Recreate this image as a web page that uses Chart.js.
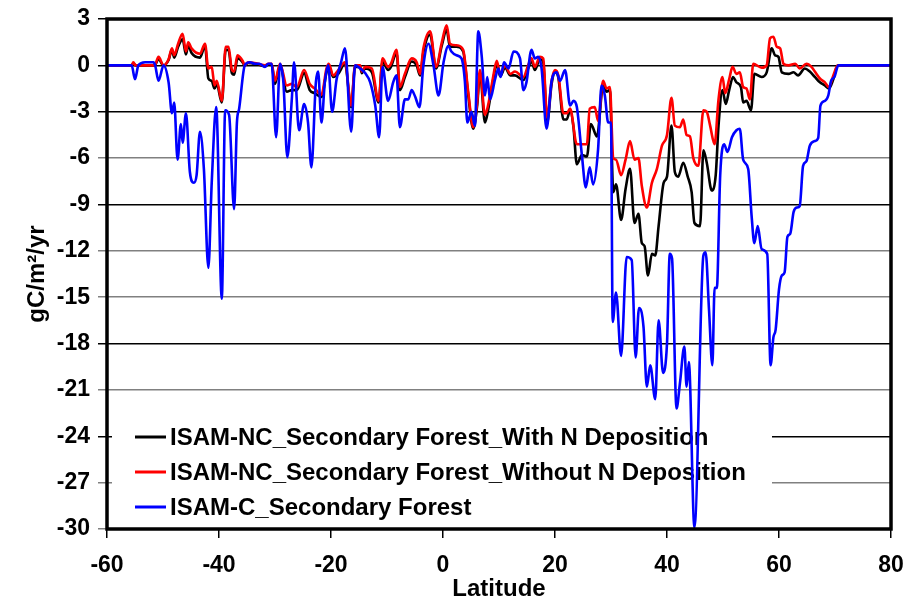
<!DOCTYPE html>
<html>
<head>
<meta charset="utf-8">
<script src="https://cdn.jsdelivr.net/npm/chart.js@4/dist/chart.umd.min.js"></script>
<style>
  body { margin: 0; background: #fff; }
</style>
</head>
<body>
<canvas id="latChart" width="905" height="598"></canvas>
<script>
// latitude (deg) / flux (gC/m2/yr) pairs
const seriesLabels = [
  "ISAM-NC_Secondary Forest_With N Deposition",
  "ISAM-NC_Secondary Forest_Without N Deposition",
  "ISAM-C_Secondary Forest"
];
const seriesColors = ["#000000", "#ff0000", "#0000ff"];

const xTicks = [-60, -40, -20, 0, 20, 40, 60, 80];
const yTicks = [3, 0, -3, -6, -9, -12, -15, -18, -21, -24, -27, -30];

const blackLat = [-60, -55.6, -55.3, -54.9, -51.5, -50.8, -49.9, -49.0, -48.4, -48.0, -47.3, -46.5, -45.9, -45.5, -44.9, -43.4, -42.5, -41.9, -41.3, -40.8, -40.4, -39.5, -38.8, -38.3, -37.7, -37.3, -36.7, -36.3, -35.8, -35.4, -34.8, -33.0, -31.8, -31.2, -30.6, -30.0, -29.1, -27.9, -27.0, -26.1, -24.8, -23.8, -22.9, -21.7, -20.8, -20.4, -19.6, -18.7, -17.5, -16.4, -15.7, -14.8, -14.5, -13.9, -12.7, -11.5, -10.8, -9.8, -9.3, -8.3, -7.7, -6.8, -5.6, -4.7, -4.1, -3.5, -2.3, -1.25, -0.2, 0.65, 1.25, 2.4, 3.6, 4.5, 5.4, 6.1, 6.6, 7.5, 8.1, 9.0, 9.6, 10.2, 11.1, 12.0, 12.86, 14.35, 15.2, 15.8, 16.4, 17.3, 17.9, 18.6, 19.4, 20.0, 20.6, 21.5, 22.1, 22.7, 23.3, 23.9, 24.8, 25.7, 26.4, 27.5, 28.6, 29.2, 29.8, 30.4, 30.9, 31.8, 32.6, 33.4, 34.2, 34.9, 35.5, 36.0, 36.6, 37.3, 37.9, 38.5, 39.4, 40.0, 40.8, 41.4, 42.0, 42.9, 43.7, 44.4, 44.9, 45.9, 46.5, 47.1, 48.0, 48.7, 49.2, 49.9, 50.5, 51.1, 51.8, 52.4, 53.2, 53.6, 54.2, 55.0, 55.6, 56.9, 57.8, 58.7, 59.3, 59.9, 60.5, 61.7, 62.6, 63.4, 64.6, 65.5, 66.4, 67.3, 68.2, 68.9, 69.7, 70.5, 80];
const blackVal = [0, 0, 0.15, 0, 0, 0.4, 0, 0.35, 1.0, 0.5, 1.2, 1.7, 0.7, 1.3, 0.8, 0.5, 1.25, -0.85, -1.0, -1.5, -1.2, -2.4, 1.0, 1.0, -0.5, -0.6, 0.45, 0.4, 0.2, 0, 0.15, 0.05, -0.05, 0.05, 0.05, -1.2, 0, -1.7, -1.6, -1.6, -0.5, -1.6, -1.8, -2.05, -0.45, -0.05, -0.75, -0.55, 0.1, -2.7, -0.1, -0.1, -0.5, -0.2, -0.45, -2.4, 0.25, -0.3, -0.1, 0.8, -1.6, -0.75, 0.25, 0, -0.65, 0.85, 2.0, -0.2, 1.3, 2.3, 1.2, 1.2, 0.9, -1.9, -4.1, -2.6, -0.5, -3.7, -2.8, -0.85, 0.1, -0.7, -0.15, -0.65, -0.65, -0.95, -0.2, 0.3, -0.3, 0.4, 0.2, -3.7, -1.2, -0.45, -0.8, -3.5, -3.5, -2.9, -4.0, -6.4, -5.8, -5.9, -3.8, -4.6, -1.3, -1.7, -1.6, -8.2, -7.7, -10.0, -8.0, -6.7, -10.2, -9.6, -11.5, -11.7, -13.6, -12.2, -12.3, -10.4, -7.6, -7.2, -3.9, -6.9, -7.2, -6.3, -7.2, -8.2, -10.2, -10.4, -5.5, -6.3, -8.1, -7.1, -3.9, -1.6, -2.5, -1.6, -0.75, -1.1, -1.4, -2.4, -2.3, -2.9, -0.55, -0.75, -0.45, 1.1, 0.65, 0.55, -0.45, -0.55, -0.45, -0.65, -0.2, -0.4, -0.75, -1.1, -1.3, -1.5, -0.9, 0, 0];

const redLat = [-60, -55.6, -55.3, -54.9, -51.5, -50.8, -49.9, -49.0, -48.4, -48.0, -47.3, -46.5, -45.9, -45.5, -44.9, -43.4, -42.5, -41.9, -41.3, -40.8, -40.4, -39.5, -38.8, -38.3, -37.7, -37.3, -36.7, -36.3, -35.8, -35.4, -34.8, -33.0, -31.8, -31.2, -30.6, -30.0, -29.1, -27.9, -27.0, -26.1, -24.8, -23.8, -22.9, -21.7, -20.8, -20.4, -19.6, -18.7, -17.5, -16.4, -15.7, -14.8, -14.5, -13.9, -12.7, -11.5, -10.8, -9.8, -9.3, -8.3, -7.7, -6.8, -5.6, -4.7, -4.1, -3.5, -2.3, -1.25, -0.2, 0.65, 1.25, 2.4, 3.6, 4.5, 5.4, 6.1, 6.6, 7.5, 8.1, 9.0, 9.6, 10.2, 11.1, 12.0, 12.86, 14.35, 15.2, 15.8, 16.4, 17.3, 17.9, 18.6, 19.4, 20.0, 20.6, 21.5, 22.1, 22.7, 23.9, 24.8, 25.7, 26.2, 27.1, 27.7, 28.6, 29.2, 29.8, 30.4, 30.9, 31.8, 32.6, 33.4, 34.2, 34.9, 35.5, 36.4, 37.3, 38.2, 39.1, 40.0, 40.8, 41.4, 42.3, 42.9, 43.5, 44.1, 44.7, 45.6, 46.5, 47.1, 47.7, 48.5, 49.2, 49.9, 50.4, 51.1, 51.7, 52.4, 53.0, 53.6, 54.2, 54.8, 55.4, 56.9, 57.8, 58.4, 59.0, 59.6, 60.2, 60.8, 61.7, 62.9, 63.7, 64.9, 65.8, 66.4, 67.3, 68.2, 68.9, 69.7, 70.5, 80];
const redVal = [0, 0, 0.2, 0, 0, 0.55, 0, 0.4, 1.1, 0.65, 1.4, 2.05, 0.9, 1.5, 1.1, 0.75, 1.4, -0.2, -0.1, -1.3, -1.0, -2.3, 1.2, 1.2, -0.3, -0.4, 0.65, 0.55, 0.3, 0, 0.2, 0.1, 0, 0.1, 0.1, -1.0, 0.1, -1.3, -1.2, -1.4, -0.3, -1.2, -1.5, -1.9, -0.2, 0.1, -0.65, -0.3, 0.2, -2.6, 0, 0, -0.4, -0.1, -0.2, -2.3, 0.45, -0.1, 0.1, 1.0, -1.4, -0.55, 0.45, 0.2, -0.55, 1.1, 2.2, -0.1, 1.5, 2.6, 1.4, 1.3, 1.0, -1.7, -4.0, -2.4, -0.3, -3.2, -2.5, -0.65, 0.3, -0.55, 0, -0.55, -0.4, -0.75, 0, 0.45, -0.1, 0.55, 0.45, -3.4, -1.0, -0.3, -0.65, -3.1, -3.1, -2.8, -5.1, -5.1, -5.1, -2.8, -2.7, -3.6, -1.0, -1.5, -1.4, -6.0, -6.1, -7.1, -6.1, -4.9, -6.1, -6.0, -7.8, -9.2, -7.6, -6.7, -5.2, -4.5, -2.1, -3.9, -4.0, -3.5, -4.5, -4.6, -6.0, -6.5, -2.9, -3.0, -3.9, -5.1, -2.2, -0.75, -1.8, -0.9, -0.1, -0.55, -0.45, -1.4, -1.5, -2.2, 0.1, -0.15, 0, 1.75, 1.85, 1.2, 1.1, 0.1, 0, 0.1, -0.2, 0.1, -0.1, -0.4, -0.85, -1.1, -1.4, -0.65, 0, 0];

const blueLat = [-60, -55.6, -55.0, -54.4, -53.2, -51.7, -51.4, -50.8, -49.9, -49.0, -48.4, -48.0, -47.4, -46.8, -46.5, -45.9, -45.2, -44.5, -44.0, -43.4, -42.7, -41.9, -41.3, -40.5, -39.5, -38.9, -38.2, -37.3, -36.8, -36.4, -35.4, -34.5, -33.5, -32.8, -31.8, -31.2, -30.6, -29.8, -29.1, -28.5, -27.8, -27.0, -26.6, -25.7, -24.8, -24.1, -23.5, -22.7, -22.3, -21.7, -21.1, -20.5, -19.8, -19.0, -18.2, -17.5, -16.4, -15.7, -14.8, -13.9, -13.0, -12.1, -11.4, -10.8, -9.8, -8.9, -8.3, -7.7, -6.8, -6.2, -5.6, -5.0, -4.2, -3.5, -2.6, -1.7, -0.8, 0.1, 0.95, 1.5, 2.4, 3.3, 3.9, 4.35, 5.1, 5.7, 6.3, 6.9, 7.5, 7.9, 8.4, 9.3, 9.9, 10.3, 10.9, 11.7, 12.6, 13.75, 14.35, 14.9, 15.8, 16.4, 17.0, 17.6, 18.5, 19.4, 20.3, 20.9, 21.8, 22.7, 23.3, 23.9, 24.8, 25.5, 26.2, 26.8, 27.7, 28.3, 28.9, 29.5, 30.0, 30.3, 30.9, 31.8, 32.8, 33.7, 34.4, 35.0, 35.8, 36.4, 37.0, 37.9, 38.5, 39.3, 40.0, 40.5, 40.9, 41.7, 42.3, 43.1, 43.5, 43.9, 44.9, 46.5, 46.9, 47.5, 48.1, 48.5, 48.9, 49.5, 50.2, 50.8, 51.6, 52.4, 53.0, 53.6, 54.5, 55.1, 55.6, 56.2, 56.9, 57.9, 58.5, 59.0, 59.4, 60.0, 60.5, 61.0, 61.5, 62.0, 62.6, 63.2, 63.7, 64.3, 64.9, 65.5, 66.4, 67.0, 67.4, 68.2, 68.8, 69.3, 69.9, 70.6, 80];
const blueVal = [0, 0, -0.9, 0, 0.2, 0.2, 0, -1.0, 0, -1.1, -3.1, -2.4, -6.1, -3.8, -5.0, -3.1, -6.9, -7.6, -7.1, -4.3, -6.7, -13.1, -7.6, -2.7, -15.1, -2.9, -3.2, -9.3, -3.7, -2.8, 0, 0.2, 0.1, 0.1, -0.1, 0.1, 0.1, -4.65, 0.1, -1.1, -5.95, -2.2, 0.2, -4.2, -2.5, -3.7, -6.6, -1.1, -0.4, -3.7, -1.1, 0, -3.0, -0.9, 0.2, 1.1, -4.3, 0, -0.2, -0.5, -1.1, -2.6, -4.65, -0.1, -2.3, -1.1, -0.65, -4.0, -2.2, -2.2, -1.6, -2.0, -2.7, 0, 1.4, 0, -1.95, 0.2, 1.25, 0.9, 0.65, 0.45, -1.0, -3.7, -3.0, -3.9, 2.2, 0.65, -1.95, -0.75, -2.2, -0.9, -0.2, -0.75, 0.2, -0.2, 0.9, 0.45, -1.6, -1.1, 1.0, 0.45, 0.55, -0.2, -4.1, -1.0, -0.45, -1.0, -0.3, -2.6, -2.3, -2.7, -5.8, -7.9, -6.6, -7.7, -5.4, -1.3, -1.95, -3.7, -3.7, -16.6, -14.7, -18.8, -12.4, -12.6, -18.9, -15.7, -16.9, -20.8, -19.4, -21.6, -16.5, -19.9, -18.0, -12.2, -12.5, -22.2, -20.6, -18.2, -20.8, -19.2, -29.9, -12.3, -12.1, -15.8, -19.4, -14.4, -14.4, -7.1, -5.1, -5.6, -4.65, -4.2, -4.1, -6.1, -6.7, -9.7, -11.5, -10.4, -11.9, -12.2, -19.4, -17.6, -17.1, -14.5, -13.6, -13.4, -11.1, -10.9, -9.5, -9.2, -9.1, -6.5, -6.2, -5.2, -4.9, -4.7, -2.6, -2.3, -1.95, -1.0, -0.75, 0, 0];

const blackGridValues = [3, 0, -3, -9, -18, -24];
const FONT = "'Liberation Sans', Arial, sans-serif";

function pairs(lat, val) {
  return lat.map((x, i) => ({ x: x, y: val[i] }));
}

// white box + legend entries sitting on the gridlines, under the data lines
const insideLegend = {
  id: "insideLegend",
  beforeDatasetsDraw(chart) {
    const ctx = chart.ctx;
    const area = chart.chartArea;
    ctx.save();
    ctx.fillStyle = "#ffffff";
    ctx.fillRect(area.left + 5, 400, 660, area.bottom - 401);
    ctx.font = "bold 24px " + FONT;
    ctx.textBaseline = "middle";
    const rows = [437, 472, 507];
    seriesLabels.forEach((label, i) => {
      ctx.strokeStyle = seriesColors[i];
      ctx.lineWidth = 3;
      ctx.beginPath();
      ctx.moveTo(135, rows[i]);
      ctx.lineTo(166, rows[i]);
      ctx.stroke();
      ctx.fillStyle = "#000000";
      ctx.fillText(label, 170, rows[i] + 1);
    });
    ctx.restore();
  }
};

const frameBox = {
  id: "frameBox",
  afterDatasetsDraw(chart) {
    const a = chart.chartArea;
    const ctx = chart.ctx;
    ctx.save();
    ctx.strokeStyle = "#000000";
    ctx.lineWidth = 3.5;
    ctx.strokeRect(a.left, a.top, a.right - a.left, a.bottom - a.top);
    ctx.restore();
  }
};

const ctx = document.getElementById("latChart");
new Chart(ctx, {
  type: "line",
  data: {
    datasets: [
      { label: seriesLabels[0], data: pairs(blackLat, blackVal), borderColor: seriesColors[0], order: 2 },
      { label: seriesLabels[1], data: pairs(redLat, redVal), borderColor: seriesColors[1], order: 1 },
      { label: seriesLabels[2], data: pairs(blueLat, blueVal), borderColor: seriesColors[2], order: 0 }
    ]
  },
  options: {
    responsive: false,
    animation: false,
    devicePixelRatio: 1,
    layout: { padding: { top: 19, right: 14, left: 0, bottom: 0 } },
    elements: {
      point: { radius: 0 },
      line: { borderWidth: 2.6, fill: false, cubicInterpolationMode: "monotone" }
    },
    plugins: {
      legend: { display: false },
      tooltip: { enabled: false }
    },
    scales: {
      x: {
        type: "linear",
        min: xTicks[0],
        max: xTicks[xTicks.length - 1],
        afterBuildTicks: (s) => { s.ticks = xTicks.map(v => ({ value: v })); },
        afterFit: (s) => { s.height = 69; s.paddingLeft = 0; s.paddingRight = 0; },
        border: { display: false },
        grid: { drawOnChartArea: false, tickLength: 9, color: "#000000", lineWidth: 1.5 },
        ticks: { color: "#000000", padding: 14, maxRotation: 0, font: { family: FONT, size: 23, weight: "bold" } },
        title: {
          display: true, text: "Latitude", color: "#000000",
          padding: { top: 0, bottom: 0 },
          font: { family: FONT, size: 24, weight: "bold", lineHeight: 0.75 }
        }
      },
      y: {
        min: yTicks[yTicks.length - 1],
        max: yTicks[0],
        afterBuildTicks: (s) => { s.ticks = yTicks.map(v => ({ value: v })); },
        afterFit: (s) => { s.width = 107; s.paddingTop = 0; s.paddingBottom = 0; },
        border: { display: false },
        grid: {
          tickLength: 9,
          lineWidth: 1.5,
          color: (c) => blackGridValues.includes(c.tick.value) ? "#000000" : "#808080"
        },
        ticks: { color: "#000000", padding: 8, font: { family: FONT, size: 23, weight: "bold" } },
        title: {
          display: true, text: "gC/m²/yr", color: "#000000",
          padding: { top: 25, bottom: 0 },
          font: { family: FONT, size: 24, weight: "bold", lineHeight: 1 }
        }
      }
    }
  },
  plugins: [insideLegend, frameBox]
});
</script>
</body>
</html>
